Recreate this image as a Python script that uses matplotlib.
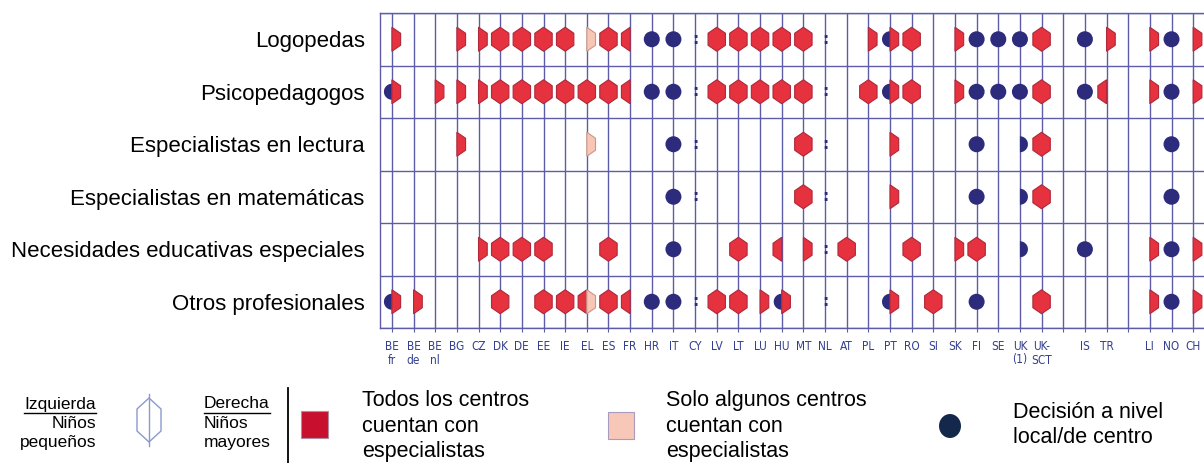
import matplotlib
matplotlib.use('Agg')
import matplotlib.pyplot as plt
from matplotlib.patches import Polygon, Rectangle, Ellipse
from matplotlib.lines import Line2D
import numpy as np

# ---------------- data ----------------
countries = ['BE\nfr', 'BE\nde', 'BE\nnl', 'BG', 'CZ', 'DK', 'DE', 'EE', 'IE', 'EL', 'ES', 'FR',
             'HR', 'IT', 'CY', 'LV', 'LT', 'LU', 'HU', 'MT', 'NL', 'AT', 'PL', 'PT', 'RO', 'SI',
             'SK', 'FI', 'SE', 'UK\n(1)', 'UK-\nSCT', '', 'IS', 'TR', '', 'LI', 'NO', 'CH']

categories = ['Logopedas', 'Psicopedagogos', 'Especialistas en lectura',
              'Especialistas en matemáticas', 'Necesidades educativas especiales',
              'Otros profesionales']

# cell codes: left half / right half ; R = all schools, P = some schools,
# C = local/school decision, - = nothing, '::' = not available
logopedas = ['-R', '--', '--', '-R', '-R', 'RR', 'RR', 'RR', 'RR', '-P', 'RR', 'R-',
             'CC', 'CC', '::', 'RR', 'RR', 'RR', 'RR', 'RR', '::', '--', '-R', 'CR', 'RR', '--',
             '-R', 'CC', 'CC', 'CC', 'RR', '--', 'CC', '-R', '--', '-R', 'CC', '-R']
psicopedagogos = ['CR', '--', '-R', '-R', '-R', 'RR', 'RR', 'RR', 'RR', 'RR', 'RR', 'R-',
                  'CC', 'CC', '::', 'RR', 'RR', 'RR', 'RR', 'RR', '::', '--', 'RR', 'CR', 'RR', '--',
                  '-R', 'CC', 'CC', 'CC', 'RR', '--', 'CC', 'R-', '--', '-R', 'CC', '-R']
lectura = ['--', '--', '--', '-R', '--', '--', '--', '--', '--', '-P', '--', '--',
           '--', 'CC', '::', '--', '--', '--', '--', 'RR', '::', '--', '--', '-R', '--', '--',
           '--', 'CC', '--', '-C', 'RR', '--', '--', '--', '--', '--', 'CC', '--']
matematicas = ['--', '--', '--', '--', '--', '--', '--', '--', '--', '--', '--', '--',
               '--', 'CC', '::', '--', '--', '--', '--', 'RR', '::', '--', '--', '-R', '--', '--',
               '--', 'CC', '--', '-C', 'RR', '--', '--', '--', '--', '--', 'CC', '--']
nee = ['--', '--', '--', '--', '-R', 'RR', 'RR', 'RR', '--', '--', 'RR', '--',
       '--', 'CC', '--', '--', 'RR', '--', 'R-', '-R', '::', 'RR', '--', '--', 'RR', '--',
       '-R', 'RR', '--', '-C', '--', '--', 'CC', '--', '--', '-R', 'CC', '-R']
otros = ['CR', '-R', '--', '--', '--', 'RR', '--', 'RR', 'RR', 'RP', 'RR', 'R-',
         'CC', 'CC', '::', 'RR', 'RR', '-R', 'CR', '--', '::', '--', '--', 'CR', '--', 'RR',
         '--', 'CC', '--', '--', 'RR', '--', '--', '--', '--', '-R', 'CC', '-R']

rows = [logopedas, psicopedagogos, lectura, matematicas, nee, otros]

legend_labels = ['Todos los centros\ncuentan con\nespecialistas',
                 'Solo algunos centros\ncuentan con\nespecialistas',
                 'Decisión a nivel\nlocal/de centro']
side_left = ['Izquierda', 'Niños', 'pequeños']
side_right = ['Derecha', 'Niños', 'mayores']

# ---------------- style ----------------
RED, RED_E = '#e5323e', '#b0283a'
PINK, PINK_E = '#f7c6b4', '#c9968c'
NAVY = '#2d2b7c'
GRID = '#5d5ca8'
TICK_C = '#34408f'

W, H = 1204, 463
fig = plt.figure(figsize=(W / 100, H / 100), dpi=100)
ax_l, ax_t, ax_b = 380, 13, 328
ax = fig.add_axes([ax_l / W, 1 - ax_b / H, (W - ax_l) / W, (ax_b - ax_t) / H])
n = len(countries)
xmin, xmax = -0.55, 37.5
ax.set_xlim(xmin, xmax)
ax.set_ylim(len(categories), 0)

pxx = (W - ax_l) / (xmax - xmin)          # pixels per x unit
pxy = (ax_b - ax_t) / len(categories)      # pixels per y unit

hw, hh, sh = 8.7 / pxx, 12.0 / pxy, 6.0 / pxy   # hexagon half width, half height, shoulder
cr_x, cr_y = 8.0 / pxx, 8.0 / pxy                # circle radii

for i in range(n):
    ax.axvline(i, color=GRID, lw=1.0, zorder=1)
for j in range(len(categories) + 1):
    ax.axhline(j, color=GRID, lw=1.0, zorder=1)

def half_hex(x, y, side):
    s = -1 if side == 'L' else 1
    return [(x, y - hh), (x + s * hw, y - sh), (x + s * hw, y + sh), (x, y + hh)]

def full_hex(x, y):
    return [(x, y - hh), (x + hw, y - sh), (x + hw, y + sh), (x, y + hh),
            (x - hw, y + sh), (x - hw, y - sh)]

def half_circ(x, y, side):
    if side == 'L':
        t = np.linspace(np.pi / 2, 3 * np.pi / 2, 40)
    else:
        t = np.linspace(-np.pi / 2, np.pi / 2, 40)
    return list(zip(x + cr_x * np.cos(t), y + cr_y * np.sin(t)))

styles = {'R': (RED, RED_E), 'P': (PINK, PINK_E)}

for r, row in enumerate(rows):
    y = r + 0.5
    for c, code in enumerate(row):
        if code == '--':
            continue
        if code == '::':
            ax.text(c, y, ':', ha='center', va='center', fontsize=11, fontweight='bold',
                    color=NAVY, zorder=3)
            continue
        lft, rgt = code[0], code[1]
        if lft == rgt and lft in styles:
            fc, ec = styles[lft]
            ax.add_patch(Polygon(full_hex(c, y), closed=True, fc=fc, ec=ec, lw=0.8, zorder=3))
            continue
        if lft == rgt == 'C':
            ax.add_patch(Ellipse((c, y), 2 * cr_x, 2 * cr_y, fc=NAVY, ec='none', zorder=3))
            continue
        for side, val in (('L', lft), ('R', rgt)):
            if val in styles:
                fc, ec = styles[val]
                ax.add_patch(Polygon(half_hex(c, y, side), closed=True, fc=fc, ec=ec, lw=0.8,
                                     zorder=3))
            elif val == 'C':
                ax.add_patch(Polygon(half_circ(c, y, side), closed=True, fc=NAVY, ec='none',
                                     zorder=3))

for s in ax.spines.values():
    s.set_color(GRID)
    s.set_linewidth(1.0)
ax.spines['right'].set_visible(False)

ax.set_xticks(range(n))
ax.set_xticklabels(countries, fontsize=8.5, color=TICK_C, family='DejaVu Sans',
                   fontstretch='condensed', linespacing=1.0)
ax.tick_params(axis='x', length=3, color=GRID, pad=6)
ax.set_yticks(np.arange(len(categories)) + 0.5)
ax.set_yticklabels(categories, fontsize=16, family=['Liberation Sans', 'DejaVu Sans'])
ax.tick_params(axis='y', length=0, pad=11)

# ---------------- legend ----------------
def fx(px):
    return px / W

def fy(py):
    return 1 - py / H

sans = ['Liberation Sans', 'DejaVu Sans']
leg_fs = 12.5
lines_y = [404, 423, 442]
t_izq = None
t_der = None
for k, (a, b) in enumerate(zip(side_left, side_right)):
    ta = fig.text(fx(96), fy(lines_y[k]), a, ha='right', va='center', fontsize=leg_fs, family=sans)
    tb = fig.text(fx(204), fy(lines_y[k]), b, ha='left', va='center', fontsize=leg_fs, family=sans)
    if k == 0:
        t_izq, t_der = ta, tb

fig.canvas.draw()
rend = fig.canvas.get_renderer()
for t in (t_izq, t_der):
    bb = t.get_window_extent(renderer=rend)
    yl = bb.y0 - 1
    fig.add_artist(Line2D([bb.x0 / W, bb.x1 / W], [yl / H, yl / H], color='black', lw=1.0,
                          transform=fig.transFigure))

# outline hexagon icon
hcx, hcy, hhw, hhh, hsh = 149, 420, 12, 22, 11
hexpts = [(fx(hcx), fy(hcy - hhh)), (fx(hcx + hhw), fy(hcy - hsh)), (fx(hcx + hhw), fy(hcy + hsh)),
          (fx(hcx), fy(hcy + hhh)), (fx(hcx - hhw), fy(hcy + hsh)), (fx(hcx - hhw), fy(hcy - hsh))]
fig.add_artist(Polygon(hexpts, closed=True, fc='none', ec='#8b9acb', lw=1.0, transform=fig.transFigure))
fig.add_artist(Line2D([fx(hcx), fx(hcx)], [fy(hcy - hhh - 4), fy(hcy + hhh + 4)], color='#8b9acb',
                      lw=1.0, transform=fig.transFigure))

# separator
fig.add_artist(Line2D([fx(288), fx(288)], [fy(388), fy(463)], color='black', lw=1.3,
                      transform=fig.transFigure))

big = 15.5
ls = 1.28
# red square
fig.add_artist(Rectangle((fx(301), fy(438)), fx(27), 27 / H, fc='#c8102e', ec='#b08ca0', lw=0.8,
                         transform=fig.transFigure))
fig.text(fx(362), fy(426), legend_labels[0], ha='left', va='center', fontsize=big,
         family=sans, linespacing=ls)

# pink square
fig.add_artist(Rectangle((fx(608), fy(439)), fx(26), 27 / H, fc='#f7c8b8', ec='#a99ac0', lw=0.8,
                         transform=fig.transFigure))
fig.text(fx(666), fy(426), legend_labels[1], ha='left', va='center', fontsize=big,
         family=sans, linespacing=ls)

# navy circle
fig.add_artist(Ellipse((fx(950), fy(426)), fx(22), 24 / H, fc='#13284b', ec='none',
                       transform=fig.transFigure))
fig.text(fx(1013), fy(425), legend_labels[2], ha='left', va='center', fontsize=big,
         family=sans, linespacing=ls)

fig.savefig('out.png', dpi=100)
